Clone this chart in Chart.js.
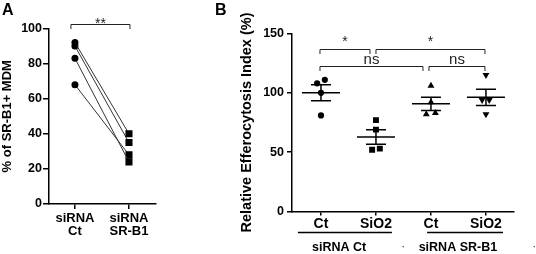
<!DOCTYPE html>
<html lang="pt">
<head>
<meta charset="utf-8">
<title>SR-B1 e eferocitose</title>
<script src="https://cdn.jsdelivr.net/npm/chart.js@4.4.1/dist/chart.umd.min.js"></script>
<style>
    body { margin: 0; background: #fff; }
    canvas { position: absolute; top: 0; }
    #graficoA { left: 0; }
    #graficoB { left: 180px; }
</style>
</head>
<body>
<canvas id="graficoA" width="180" height="254"></canvas>
<canvas id="graficoB" width="356" height="254"></canvas>
<script>
// ---- dados painel A (pares por doador) ----
const categoriasA = [['siRNA', 'Ct'], ['siRNA', 'SR-B1']];
const valoresSiCt = [92, 90, 83, 68];
const valoresSiSRB1 = [40, 35, 24, 28];
const ticksA = [0, 20, 40, 60, 80, 100];
const significanciaA = '**';

// ---- dados painel B ----
const categoriasB = ['Ct', 'SiO2', 'Ct', 'SiO2'];
const gruposB = ['siRNA Ct', 'siRNA SR-B1'];
const valoresCtCt = [108, 111, 100, 81];
const valoresCtSiO2 = [77, 69, 52, 53];
const valoresSRB1Ct = [106, 92, 82, 83];
const valoresSRB1SiO2 = [115, 94, 94, 82];
const ticksB = [0, 50, 100, 150];
const comparacoesB = [
    { de: 0, ate: 1, texto: '*' },
    { de: 1, ate: 3, texto: '*' },
    { de: 0, ate: 2, texto: 'ns' },
    { de: 2, ate: 3, texto: 'ns' }
];

// ---- layout (nao sao dados) ----
const fonte = 'Arial, "Liberation Sans", Helvetica, sans-serif';
// espalhamento horizontal dos pontos para nao sobrepor
const espalharB = [[-0.07, 0.07, 0, 0], [0, 0, -0.07, 0.07], [0, 0, -0.085, 0.08], [0, -0.07, 0.06, 0]];
// altura (eixo y) e recuo em px das pontas de cada colchete
const colchetesB = [
    { nivel: 136.6, recuoDe: -1, recuoAte: -6 },
    { nivel: 136.6, recuoDe: 0, recuoAte: -1 },
    { nivel: 122.6, recuoDe: -1, recuoAte: -8 },
    { nivel: 122.6, recuoDe: -2, recuoAte: -1 }
];
const linhasGruposB = [{ de: 0.58, ate: 2.29, centro: 1.33 }, { de: 2.93, ate: 4.31, centro: 3.49 }];

Chart.defaults.font.family = fonte;
Chart.defaults.color = '#000';

function desenharColchete(ctx, x1, x2, yl, perna, texto, tamanho, desloc) {
    yl = Math.round(yl) + 0.5;
    ctx.strokeStyle = '#222';
    ctx.lineWidth = 1;
    ctx.beginPath();
    ctx.moveTo(x1, yl + perna);
    ctx.lineTo(x1, yl);
    ctx.lineTo(x2, yl);
    ctx.lineTo(x2, yl + perna);
    ctx.stroke();
    ctx.fillStyle = '#222';
    ctx.font = tamanho + 'px ' + fonte;
    ctx.textAlign = 'center';
    ctx.textBaseline = 'alphabetic';
    ctx.fillText(texto, (x1 + x2) / 2, yl + desloc);
}

// ================= painel A =================
const extrasA = {
    id: 'extrasA',
    afterDraw(chart) {
        const { ctx, scales: { x, y } } = chart;
        ctx.save();
        ctx.fillStyle = '#000';
        ctx.font = 'bold 16px ' + fonte;
        ctx.textAlign = 'left';
        ctx.fillText('A', 2, 15);
        desenharColchete(ctx, x.getPixelForValue(1) - 4, x.getPixelForValue(2) + 1,
            y.getPixelForValue(102.6), 4.5, significanciaA, 14, 3.5);
        ctx.restore();
    }
};

const datasetsA = valoresSiCt.map((v, i) => ({
    data: [{ x: 1, y: v }, { x: 2, y: valoresSiSRB1[i] }],
    showLine: true,
    borderColor: '#333',
    borderWidth: 1,
    pointStyle: ['circle', 'rect'],
    pointRadius: [3.5, 5],
    pointBackgroundColor: '#000',
    pointBorderColor: '#000',
    pointBorderWidth: 0
}));

new Chart(document.getElementById('graficoA'), {
    type: 'scatter',
    data: { datasets: datasetsA },
    plugins: [extrasA],
    options: {
        responsive: false,
        animation: false,
        layout: { padding: { left: 0, top: 28.5, right: 24, bottom: 0 } },
        plugins: { legend: { display: false }, tooltip: { enabled: false } },
        scales: {
            x: {
                type: 'linear',
                min: 0.52,
                max: 2.5,
                afterBuildTicks: (scale) => { scale.ticks = categoriasA.map((c, i) => ({ value: i + 1 })); },
                afterFit: (scale) => { scale.height = 50; },
                ticks: {
                    callback: (v, i) => categoriasA[i],
                    font: { size: 13, weight: 'bold', lineHeight: 1.0 },
                    padding: 3,
                    maxRotation: 0
                },
                grid: { display: true, drawOnChartArea: false, tickLength: 5, color: '#000', lineWidth: 1.5 },
                border: { color: '#000', width: 1.5 }
            },
            y: {
                min: 0,
                max: 100,
                afterBuildTicks: (scale) => { scale.ticks = ticksA.map(v => ({ value: v })); },
                afterFit: (scale) => { scale.width = 49; },
                ticks: { font: { size: 12.5, weight: 'bold' }, padding: 1 },
                grid: { display: true, drawOnChartArea: false, tickLength: 6, color: '#000', lineWidth: 1.5 },
                border: { color: '#000', width: 1.5 },
                title: {
                    display: true,
                    text: '% of SR-B1+ MDM',
                    font: { size: 13, weight: 'bold' },
                    padding: { top: 0, bottom: 0 }
                }
            }
        }
    }
});

// ================= painel B =================
const extrasB = {
    id: 'extrasB',
    afterDatasetsDraw(chart) {
        const { ctx, scales: { x, y } } = chart;
        ctx.save();
        ctx.strokeStyle = '#000';
        ctx.lineWidth = 1.5;
        // media +- EPM
        chart.data.datasets.forEach((ds, i) => {
            const vals = ds.data.map(p => p.y);
            const n = vals.length;
            const media = vals.reduce((a, b) => a + b, 0) / n;
            const dp = Math.sqrt(vals.reduce((a, b) => a + (b - media) ** 2, 0) / (n - 1));
            const epm = dp / Math.sqrt(n);
            const cx = x.getPixelForValue(i + 1);
            const ym = y.getPixelForValue(media);
            const ya = y.getPixelForValue(media + epm);
            const yb = y.getPixelForValue(media - epm);
            ctx.beginPath();
            ctx.moveTo(cx - 19, ym); ctx.lineTo(cx + 19, ym);
            ctx.moveTo(cx - 10, ya); ctx.lineTo(cx + 10, ya);
            ctx.moveTo(cx - 10, yb); ctx.lineTo(cx + 10, yb);
            ctx.moveTo(cx, ya); ctx.lineTo(cx, yb);
            ctx.stroke();
        });
        ctx.restore();
    },
    afterDraw(chart) {
        const { ctx, chartArea, scales: { x, y } } = chart;
        ctx.save();
        ctx.fillStyle = '#000';
        ctx.font = 'bold 16px ' + fonte;
        ctx.textAlign = 'left';
        ctx.fillText('B', 35, 15);

        comparacoesB.forEach((c, i) => {
            const pos = colchetesB[i];
            const x1 = x.getPixelForValue(c.de + 1) + pos.recuoDe;
            const x2 = x.getPixelForValue(c.ate + 1) + pos.recuoAte;
            const desloc = c.texto === '*' ? -3.5 : -3;
            desenharColchete(ctx, x1, x2, y.getPixelForValue(pos.nivel), 4.5, c.texto, c.texto === '*' ? 14 : 15, desloc);
        });

        // linhas e nomes dos grupos de siRNA
        ctx.strokeStyle = '#000';
        ctx.lineWidth = 1.5;
        ctx.fillStyle = '#000';
        ctx.font = 'bold 12.5px ' + fonte;
        ctx.textAlign = 'center';
        ctx.textBaseline = 'middle';
        gruposB.forEach((g, i) => {
            const l = linhasGruposB[i];
            const yl = chartArea.bottom + 21;
            ctx.beginPath();
            ctx.moveTo(x.getPixelForValue(l.de), yl);
            ctx.lineTo(x.getPixelForValue(l.ate), yl);
            ctx.stroke();
            const cx = x.getPixelForValue(l.centro);
            ctx.fillText(g, cx, chartArea.bottom + 36);
            const fim = cx + ctx.measureText(g).width / 2;
            ctx.font = '10px ' + fonte;
            ctx.fillText('·', fim + 37, chartArea.bottom + 36);
            ctx.font = 'bold 12.5px ' + fonte;
        });
        ctx.restore();
    }
};

const seriesB = [valoresCtCt, valoresCtSiO2, valoresSRB1Ct, valoresSRB1SiO2];
const marcadoresB = [
    { estilo: 'circle', raio: 3.1, rot: 0 },
    { estilo: 'rect', raio: 4.2, rot: 0 },
    { estilo: 'triangle', raio: 4, rot: 0 },
    { estilo: 'triangle', raio: 4, rot: 180 }
];

const datasetsB = seriesB.map((vals, i) => ({
    data: vals.map((v, j) => ({ x: i + 1 + espalharB[i][j], y: v })),
    pointStyle: marcadoresB[i].estilo,
    pointRadius: marcadoresB[i].raio,
    pointRotation: marcadoresB[i].rot,
    pointBackgroundColor: '#000',
    pointBorderColor: '#000',
    pointBorderWidth: 0
}));

new Chart(document.getElementById('graficoB'), {
    type: 'scatter',
    data: { datasets: datasetsB },
    plugins: [extrasB],
    options: {
        responsive: false,
        animation: false,
        layout: { padding: { left: 58.3, top: 33.5, right: 22, bottom: 0 } },
        plugins: { legend: { display: false }, tooltip: { enabled: false } },
        scales: {
            x: {
                type: 'linear',
                min: 0.473,
                max: 4.51,
                afterBuildTicks: (scale) => { scale.ticks = categoriasB.map((c, i) => ({ value: i + 1 })); },
                afterFit: (scale) => { scale.height = 42.5; },
                ticks: {
                    callback: (v, i) => categoriasB[i],
                    font: { size: 14, weight: 'bold' },
                    padding: 0,
                    maxRotation: 0
                },
                grid: { display: true, drawOnChartArea: false, tickLength: 4, color: '#000', lineWidth: 1.5 },
                border: { color: '#000', width: 1.5 }
            },
            y: {
                min: 0,
                max: 150,
                afterBuildTicks: (scale) => { scale.ticks = ticksB.map(v => ({ value: v })); },
                afterFit: (scale) => { scale.width = 53.7; },
                ticks: { font: { size: 12.5, weight: 'bold' }, padding: 3 },
                grid: { display: true, drawOnChartArea: false, tickLength: 5, color: '#000', lineWidth: 1.5 },
                border: { color: '#000', width: 1.5 },
                title: {
                    display: true,
                    text: 'Relative Efferocytosis Index (%)',
                    font: { size: 14.5, weight: 'bold' },
                    padding: { top: 0, bottom: 0 }
                }
            }
        }
    }
});
</script>
</body>
</html>
